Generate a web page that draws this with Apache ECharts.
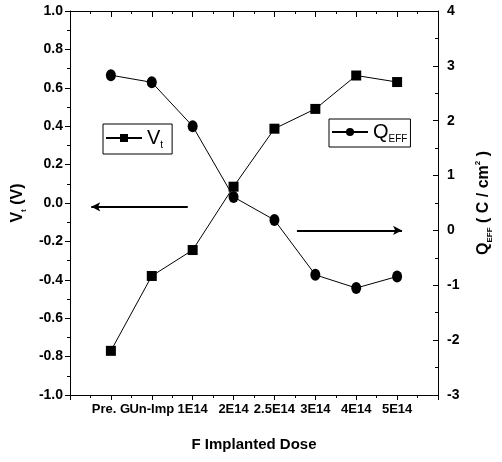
<!DOCTYPE html>
<html>
<head>
<meta charset="utf-8">
<script src="https://cdn.jsdelivr.net/npm/echarts@6/dist/echarts.min.js"></script>
<style>
html,body{margin:0;padding:0;background:#fff;}
#chart{width:502px;height:462px;}
</style>
</head>
<body>
<div id="chart"></div>
<script>
// ---- data ----
const categories = ['Pre. G', 'Un-Imp', '1E14', '2E14', '2.5E14', '3E14', '4E14', '5E14'];
const vtValues = [-0.77, -0.38, -0.245, 0.085, 0.387, 0.49, 0.664, 0.63];
const qeffValues = [2.83, 2.70, 1.90, 0.61, 0.19, -0.81, -1.05, -0.84];
const leftTicks = { min: -1.0, max: 1.0, interval: 0.2 };
const rightTicks = { min: -3, max: 4, interval: 1 };
// annotation arrows (data coordinates)
const leftArrow = [[2.88, -0.02], [0.52, -0.02]];
const rightArrow = [[5.55, 0], [8.12, 0]];

const FONT = "Arial, 'Liberation Sans', sans-serif";
const chart = echarts.init(document.getElementById('chart'), null, { renderer: 'canvas' });

const xMin = 0, xMax = categories.length + 1;
const toPairs = arr => arr.map((v, i) => [i + 1, v]);

const nameRich = {
  b: { fontFamily: FONT, fontSize: 16, fontWeight: 'bold', color: '#000', lineHeight: 20 },
  s: { fontFamily: FONT, fontSize: 8, fontWeight: 'bold', color: '#000', lineHeight: 8, verticalAlign: 'bottom' },
  p: { fontFamily: FONT, fontSize: 8, fontWeight: 'bold', color: '#000', lineHeight: 8, verticalAlign: 'top' }
};
const legendRich = {
  m: { fontFamily: FONT, fontSize: 20, color: '#000', lineHeight: 24 },
  s: { fontFamily: FONT, fontSize: 10, color: '#000', lineHeight: 10, verticalAlign: 'bottom' }
};

const option = {
  animation: false,
  backgroundColor: '#fff',
  grid: { left: 70, right: 48, top: 11, bottom: 67 },
  legend: [
    {
      data: ['Vt'], left: 103, top: 124, orient: 'horizontal',
      borderColor: '#000', borderWidth: 1, padding: [4, 9, 4, 2],
      itemWidth: 36, itemHeight: 10, itemGap: 0,
      formatter: () => '{m|V}{s|t}',
      textStyle: { rich: legendRich }
    },
    {
      data: ['QEFF'], left: 329, top: 119, orient: 'horizontal',
      borderColor: '#000', borderWidth: 1, padding: [3, 3, 3, 2],
      itemWidth: 36, itemHeight: 10, itemGap: 0,
      formatter: () => '{m|Q}{s|EFF}',
      textStyle: { rich: legendRich }
    }
  ],
  xAxis: [
    {
      type: 'value', min: xMin, max: xMax, interval: 1, position: 'bottom',
      name: 'F Implanted Dose', nameLocation: 'middle', nameGap: 42,
      nameTextStyle: { fontFamily: FONT, fontSize: 15, fontWeight: 'bold', color: '#000' },
      axisLine: { show: true, onZero: false, lineStyle: { color: '#000', width: 1 } },
      axisTick: { show: true, inside: false, length: 5, lineStyle: { color: '#000' } },
      minorTick: { show: true, splitNumber: 2, length: 3, lineStyle: { color: '#000' } },
      splitLine: { show: false },
      axisLabel: {
        fontFamily: FONT, fontSize: 13, fontWeight: 'bold', color: '#000', margin: 8,
        formatter: v => (categories[v - 1] !== undefined ? categories[v - 1] : '')
      }
    },
    {
      type: 'value', min: xMin, max: xMax, interval: 1, position: 'top',
      axisLine: { show: true, onZero: false, lineStyle: { color: '#000', width: 1 } },
      axisTick: { show: true, inside: true, length: 6, lineStyle: { color: '#000' } },
      minorTick: { show: true, splitNumber: 2, length: 3, lineStyle: { color: '#000' } },
      splitLine: { show: false },
      axisLabel: { show: false }
    }
  ],
  yAxis: [
    {
      type: 'value', position: 'left', min: leftTicks.min, max: leftTicks.max, interval: leftTicks.interval,
      name: '{b|V}{s|t}{b| (V)}', nameLocation: 'middle', nameRotate: 90, nameGap: 40,
      nameTextStyle: { rich: nameRich },
      axisLine: { show: true, onZero: false, lineStyle: { color: '#000', width: 1 } },
      axisTick: { show: true, inside: false, length: 5, lineStyle: { color: '#000' } },
      minorTick: { show: true, splitNumber: 2, length: 3, lineStyle: { color: '#000' } },
      splitLine: { show: false },
      axisLabel: {
        fontFamily: FONT, fontSize: 14, fontWeight: 'bold', color: '#000', margin: 7,
        formatter: v => v.toFixed(1)
      }
    },
    {
      type: 'value', position: 'right', min: rightTicks.min, max: rightTicks.max, interval: rightTicks.interval,
      name: '{b|Q}{s|EFF}{b| ( C / cm}{p|2}{b| )}', nameLocation: 'middle', nameRotate: 90, nameGap: 36,
      nameTextStyle: { rich: nameRich },
      axisLine: { show: true, onZero: false, lineStyle: { color: '#000', width: 1 } },
      axisTick: { show: true, inside: true, length: 5, lineStyle: { color: '#000' } },
      minorTick: { show: true, splitNumber: 2, length: 3, lineStyle: { color: '#000' } },
      splitLine: { show: false },
      axisLabel: {
        fontFamily: FONT, fontSize: 14, fontWeight: 'bold', color: '#000', margin: 9,
        formatter: v => String(v)
      }
    }
  ],
  series: [
    {
      name: 'Vt', type: 'line', xAxisIndex: 0, yAxisIndex: 0,
      data: toPairs(vtValues),
      symbol: 'rect', symbolSize: 10,
      itemStyle: { color: '#000' },
      lineStyle: { color: '#000', width: 1 },
      markLine: {
        silent: true, symbol: ['none', 'arrow'], symbolSize: [7, 9],
        label: { show: false },
        lineStyle: { color: '#000', width: 2.2, type: 'solid' },
        data: [[{ coord: leftArrow[0] }, { coord: leftArrow[1] }]]
      }
    },
    {
      name: 'QEFF', type: 'line', xAxisIndex: 0, yAxisIndex: 1,
      data: toPairs(qeffValues),
      symbol: 'circle', symbolSize: [10, 12],
      itemStyle: { color: '#000' },
      lineStyle: { color: '#000', width: 1 },
      markLine: {
        silent: true, symbol: ['none', 'arrow'], symbolSize: [7, 9],
        label: { show: false },
        lineStyle: { color: '#000', width: 2.2, type: 'solid' },
        data: [[{ coord: rightArrow[0] }, { coord: rightArrow[1] }]]
      }
    }
  ]
};
chart.setOption(option);
</script>
</body>
</html>
